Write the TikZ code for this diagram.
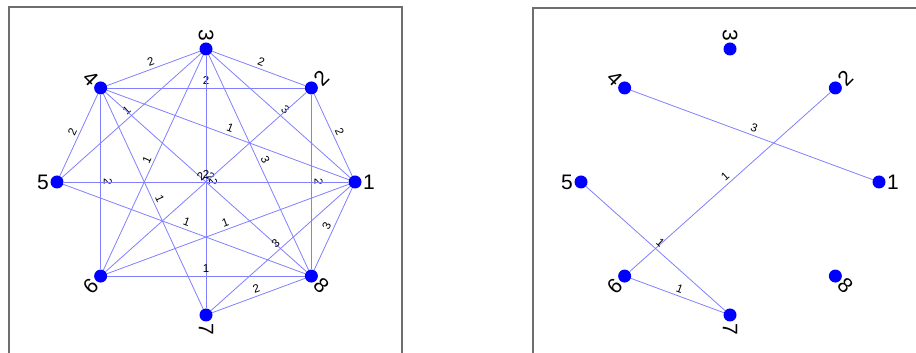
\documentclass[tikz,border=0pt]{standalone}
\usepackage{fontspec}
\setmainfont{Liberation Sans}
\definecolor{dotblue}{RGB}{0,0,255}
\definecolor{edgeblue}{RGB}{128,128,255}
\definecolor{framegray}{RGB}{110,110,110}
\tikzset{
  dot/.style={circle, fill=dotblue, inner sep=0pt, minimum size=13pt},
  edge/.style={draw=edgeblue, line width=0.8pt},
  elab/.style={font=\fontsize{11.5}{13}\selectfont, sloped, above, inner sep=2.8pt},
  vlab/.style={font=\fontsize{11.5}{13}\selectfont, rotate=-90, anchor=south, inner sep=2.8pt, pos=0.5},
  nlab/.style={font=\fontsize{21}{25}\selectfont, inner sep=0pt},
  frame/.style={draw=framegray, line width=1.2pt}
}
\begin{document}
\begin{tikzpicture}[x=1pt,y=1pt]
\useasboundingbox (0,0) rectangle (916,353);
% panel frames
\draw[frame] (9,0) -- (9,346) -- (402,346) -- (402,0);
\draw[frame] (533,0) -- (533,345) -- (916,345);

% ---------- left graph ----------
\node[dot] (a1) at ([shift={(206,171)}]0:149 and 133) {};
\node[dot] (a2) at ([shift={(206,171)}]45:149 and 133) {};
\node[dot] (a3) at ([shift={(206,171)}]90:149 and 133) {};
\node[dot] (a4) at ([shift={(206,171)}]135:149 and 133) {};
\node[dot] (a5) at ([shift={(206,171)}]180:149 and 133) {};
\node[dot] (a6) at ([shift={(206,171)}]225:149 and 133) {};
\node[dot] (a7) at ([shift={(206,171)}]270:149 and 133) {};
\node[dot] (a8) at ([shift={(206,171)}]315:149 and 133) {};

\draw[edge] (a3) -- node[elab]{2} (a4);
\draw[edge] (a3) -- node[elab]{2} (a2);
\draw[edge] (a4) -- node[elab]{2} (a2);
\draw[edge] (a3) -- node[elab]{1} (a5);
\draw[edge] (a3) -- node[elab]{1} (a6);
\draw[edge] (a3) -- node[vlab]{2} (a7);
\draw[edge] (a3) -- node[elab]{3} (a8);
\draw[edge] (a3) -- node[elab]{3} (a1);
\draw[edge] (a4) -- node[elab]{2} (a5);
\draw[edge] (a4) -- node[vlab]{2} (a6);
\draw[edge] (a4) -- node[elab]{1} (a7);
\draw[edge] (a4) -- node[elab]{2} (a8);
\draw[edge] (a4) -- node[elab]{1} (a1);
\draw[edge] (a2) -- node[elab]{2} (a1);
\draw[edge] (a2) -- node[vlab]{2} (a8);
\draw[edge] (a2) -- node[elab]{2} (a6);
\draw[edge] (a5) -- node[elab]{2} (a1);
\draw[edge] (a5) -- node[elab]{1} (a8);
\draw[edge] (a6) -- node[elab]{1} (a1);
\draw[edge] (a6) -- node[elab]{1} (a8);
\draw[edge] (a7) -- node[elab]{2} (a8);
\draw[edge] (a7) -- node[elab]{3} (a1);
\draw[edge] (a8) -- node[elab]{3} (a1);

\path (a1) ++(0:8)   node[nlab, anchor=west] {1};
\path (a2) ++(45:8)  node[nlab, rotate=45, anchor=west] {2};
\path (a3) ++(90:8)  node[nlab, rotate=-90, anchor=east] {3};
\path (a4) ++(135:8) node[nlab, rotate=-45, anchor=east] {4};
\path (a5) ++(180:8) node[nlab, anchor=east] {5};
\path (a6) ++(225:8) node[nlab, rotate=45, anchor=east] {6};
\path (a7) ++(270:8) node[nlab, rotate=-90, anchor=west] {7};
\path (a8) ++(315:8) node[nlab, rotate=-45, anchor=west] {8};

% ---------- right graph ----------
\node[dot] (b1) at ([shift={(730,171)}]0:149 and 133) {};
\node[dot] (b2) at ([shift={(730,171)}]45:149 and 133) {};
\node[dot] (b3) at ([shift={(730,171)}]90:149 and 133) {};
\node[dot] (b4) at ([shift={(730,171)}]135:149 and 133) {};
\node[dot] (b5) at ([shift={(730,171)}]180:149 and 133) {};
\node[dot] (b6) at ([shift={(730,171)}]225:149 and 133) {};
\node[dot] (b7) at ([shift={(730,171)}]270:149 and 133) {};
\node[dot] (b8) at ([shift={(730,171)}]315:149 and 133) {};

\draw[edge] (b4) -- node[elab]{3} (b1);
\draw[edge] (b2) -- node[elab]{1} (b6);
\draw[edge] (b5) -- node[elab]{1} (b7);
\draw[edge] (b6) -- node[elab]{1} (b7);

\path (b1) ++(0:8)   node[nlab, anchor=west] {1};
\path (b2) ++(45:8)  node[nlab, rotate=45, anchor=west] {2};
\path (b3) ++(90:8)  node[nlab, rotate=-90, anchor=east] {3};
\path (b4) ++(135:8) node[nlab, rotate=-45, anchor=east] {4};
\path (b5) ++(180:8) node[nlab, anchor=east] {5};
\path (b6) ++(225:8) node[nlab, rotate=45, anchor=east] {6};
\path (b7) ++(270:8) node[nlab, rotate=-90, anchor=west] {7};
\path (b8) ++(315:8) node[nlab, rotate=-45, anchor=west] {8};
\end{tikzpicture}
\end{document}
